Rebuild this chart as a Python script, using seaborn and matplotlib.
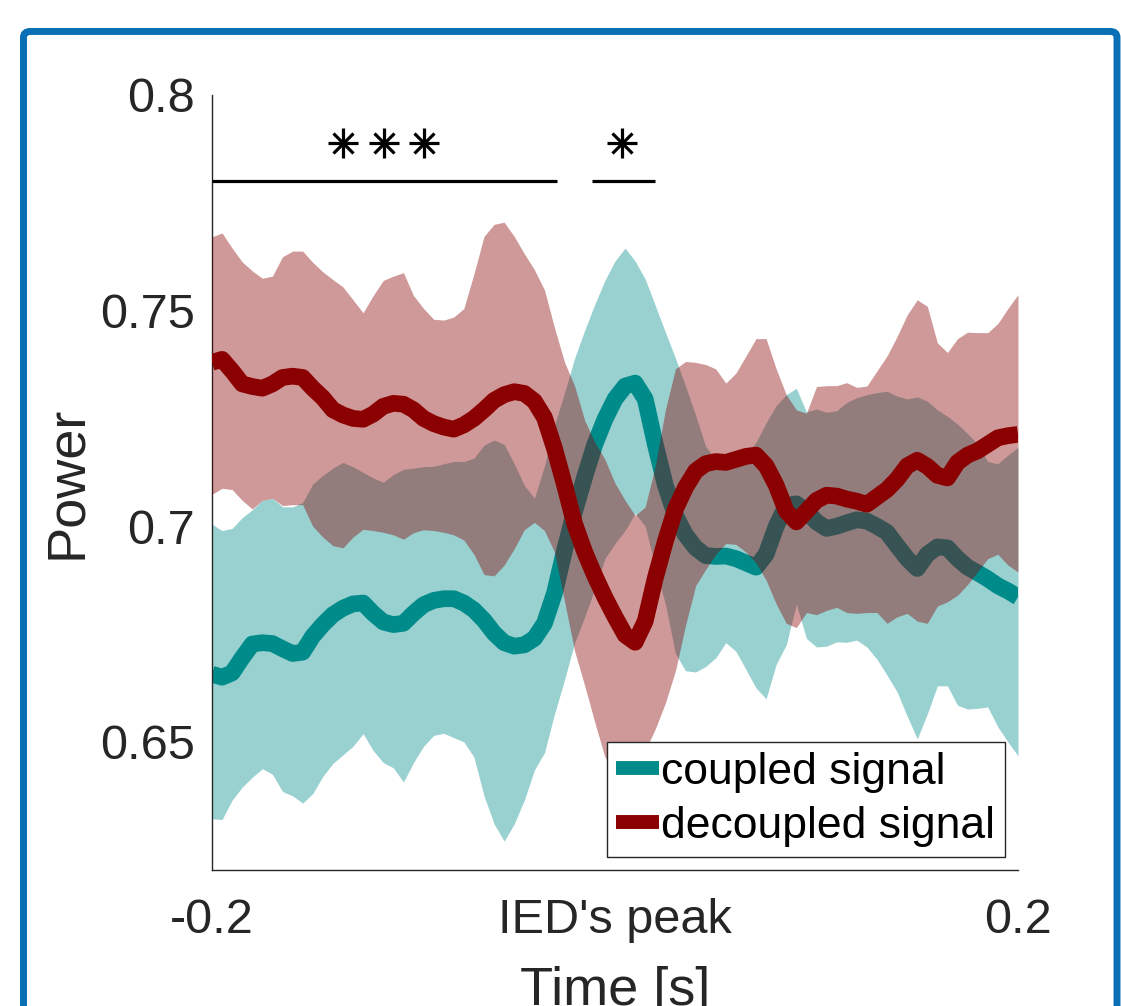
import numpy as np
import pandas as pd
import seaborn as sns
import matplotlib.pyplot as plt
from matplotlib.patches import FancyBboxPatch

# time axis (s), every 5 ms from -0.2 to 0.2
time = np.round(np.linspace(-0.2, 0.2, 81), 3)

coupled_mean = [
    .6657, .6650, .6660, .6695, .6727, .6730, .6728, .6716, .6705, .6708,
    .6745, .6772, .6795, .6810, .6820, .6822, .6798, .6778, .6772, .6775,
    .6798, .6818, .6828, .6832, .6832, .6822, .6806, .6782, .6752, .6730,
    .6722, .6725, .6740, .6775, .6845, .6945, .7035, .7115, .7190, .7248,
    .7295, .7325, .7332, .7295, .7190, .7095, .7025, .6980, .6950, .6932,
    .6930, .6931, .6925, .6915, .6905, .6935, .7000, .7048, .7052, .7035,
    .7010, .6995, .7000, .7008, .7015, .7012, .7000, .6986, .6955, .6925,
    .6902, .6935, .6952, .6950, .6925, .6905, .6892, .6878, .6862, .6850,
    .6836]
coupled_upper = [
    .7005, .6990, .6995, .7020, .7038, .7060, .7065, .7045, .7045, .7055,
    .7098, .7118, .7135, .7148, .7138, .7125, .7112, .7102, .7120, .7132,
    .7135, .7138, .7139, .7145, .7150, .7150, .7158, .7188, .7200, .7190,
    .7145, .7095, .7065, .7140, .7235, .7310, .7390, .7455, .7515, .7570,
    .7615, .7645, .7615, .7573, .7512, .7450, .7390, .7325, .7258, .7185,
    .7155, .7150, .7155, .7165, .7195, .7240, .7280, .7305, .7320, .7265,
    .7272, .7264, .7268, .7287, .7298, .7305, .7310, .7313, .7302, .7295,
    .7300, .7290, .7270, .7255, .7237, .7215, .7190, .7150, .7145, .7165,
    .7183]
coupled_lower = [
    .6322, .6320, .6365, .6395, .6418, .6438, .6425, .6385, .6375, .6358,
    .6380, .6420, .6450, .6470, .6490, .6519, .6480, .6452, .6440, .6407,
    .6452, .6490, .6515, .6520, .6510, .6500, .6465, .6375, .6310, .6270,
    .6310, .6365, .6435, .6475, .6565, .6645, .6730, .6790, .6855, .6925,
    .6960, .6990, .7030, .7000, .6905, .6820, .6705, .6665, .6662, .6675,
    .6695, .6730, .6710, .6668, .6625, .6600, .6680, .6725, .6820, .6740,
    .6720, .6722, .6732, .6731, .6736, .6720, .6692, .6655, .6616, .6560,
    .6507, .6565, .6630, .6630, .6585, .6576, .6578, .6581, .6535, .6500,
    .6468]

decoupled_mean = [
    .7380, .7387, .7360, .7330, .7324, .7320, .7330, .7345, .7348, .7345,
    .7320, .7298, .7270, .7258, .7250, .7248, .7260, .7278, .7285, .7283,
    .7270, .7250, .7238, .7230, .7225, .7235, .7250, .7270, .7292, .7305,
    .7312, .7308, .7290, .7252, .7180, .7095, .7005, .6940, .6885, .6835,
    .6790, .6748, .6731, .6780, .6880, .6965, .7040, .7090, .7128, .7145,
    .7150, .7148, .7155, .7162, .7165, .7140, .7095, .7035, .7010, .7035,
    .7060, .7072, .7070, .7063, .7058, .7051, .7068, .7085, .7109, .7140,
    .7153, .7139, .7118, .7112, .7148, .7165, .7175, .7190, .7205, .7210,
    .7213]
decoupled_upper = [
    .7671, .7680, .7645, .7613, .7592, .7575, .7580, .7625, .7638, .7638,
    .7612, .7590, .7572, .7555, .7525, .7495, .7535, .7570, .7580, .7588,
    .7535, .7505, .7480, .7478, .7485, .7505, .7585, .7672, .7700, .7705,
    .7672, .7632, .7595, .7548, .7460, .7380, .7325, .7245, .7195, .7155,
    .7100, .7060, .7025, .7045, .7140, .7270, .7365, .7382, .7380, .7375,
    .7365, .7332, .7355, .7395, .7435, .7435, .7365, .7305, .7270, .7262,
    .7324, .7326, .7326, .7333, .7322, .7325, .7360, .7395, .7440, .7490,
    .7525, .7510, .7425, .7403, .7435, .7450, .7449, .7449, .7470, .7505,
    .7537]
decoupled_lower = [
    .7074, .7088, .7085, .7060, .7040, .7060, .7065, .7048, .7050, .7050,
    .7000, .6975, .6955, .6950, .6975, .6993, .6990, .6986, .6980, .6970,
    .6985, .6992, .6990, .6986, .6980, .6968, .6935, .6888, .6885, .6910,
    .6948, .6992, .7009, .6990, .6940, .6825, .6710, .6630, .6545, .6465,
    .6430, .6420, .6435, .6480, .6530, .6590, .6665, .6770, .6862, .6900,
    .6935, .6960, .6958, .6940, .6915, .6875, .6820, .6775, .6765, .6800,
    .6795, .6805, .6812, .6800, .6798, .6800, .6800, .6775, .6790, .6798,
    .6780, .6775, .6815, .6825, .6840, .6865, .6895, .6925, .6935, .6910,
    .6894]

series_names = ['coupled signal', 'decoupled signal']
x_ticks = [-0.2, 0, 0.2]
x_ticklabels = ['-0.2', "IED's peak", '0.2']
y_ticks = [0.65, 0.7, 0.75, 0.8]
y_ticklabels = ['0.65', '0.7', '0.75', '0.8']

# significance bars: (start, end) and star positions
sig_bars = [(-0.2, -0.0288), (-0.0114, 0.0199)]
sig_star_x = [[-0.135, -0.1146, -0.0948], [0.0035]]

teal = '#008b8b'
dred = '#8b0000'
grey = '#262626'

sns.set_style('white')
plt.rcParams['font.family'] = ['Liberation Sans', 'DejaVu Sans']

fig = plt.figure(figsize=(11.21, 10.06), dpi=100)
ax = fig.add_axes([0.1891, 0.1352, 0.7190, 0.7704])

df = pd.DataFrame({'time': np.concatenate([time, time]),
                   'power': np.concatenate([coupled_mean, decoupled_mean]),
                   'signal': [series_names[0]] * len(time) + [series_names[1]] * len(time)})

ax.fill_between(time, coupled_lower, coupled_upper, color=teal, alpha=0.4,
                linewidth=0, zorder=1)
sns.lineplot(data=df[df.signal == series_names[0]], x='time', y='power',
             color=teal, linewidth=12, label=series_names[0], ax=ax, zorder=2,
             solid_capstyle='butt')
ax.fill_between(time, decoupled_lower, decoupled_upper, color=dred, alpha=0.4,
                linewidth=0, zorder=3)
sns.lineplot(data=df[df.signal == series_names[1]], x='time', y='power',
             color=dred, linewidth=12, label=series_names[1], ax=ax, zorder=4,
             solid_capstyle='butt')

# significance markers
for (x0, x1), xs in zip(sig_bars, sig_star_x):
    ax.plot([x0, x1], [0.7801, 0.7801], color='black', linewidth=2.3,
            solid_capstyle='butt', clip_on=False, zorder=5)
    ax.plot(xs, [0.7889] * len(xs), linestyle='none', marker='+',
            markersize=21, markeredgewidth=2.3, color='black', zorder=5)
    ax.plot(xs, [0.7889] * len(xs), linestyle='none', marker='x',
            markersize=15, markeredgewidth=2.3, color='black', zorder=5)

ax.set_xlim(-0.2, 0.2)
ax.set_ylim(0.6203, 0.8)
ax.set_xticks(x_ticks)
ax.set_xticklabels(x_ticklabels)
ax.set_yticks(y_ticks)
ax.set_yticklabels(y_ticklabels)
ax.tick_params(direction='in', length=5, width=1, colors=grey,
               labelsize=35, labelcolor=grey)
ax.tick_params(axis='x', pad=20)
ax.tick_params(axis='y', pad=12)
ax.set_xlabel('Time [s]', fontsize=39, color=grey, labelpad=17)
ax.set_ylabel('Power', fontsize=39, color=grey, labelpad=6)
for side in ['top', 'right']:
    ax.spines[side].set_visible(False)
for side in ['left', 'bottom']:
    ax.spines[side].set_color(grey)
    ax.spines[side].set_linewidth(1.0)

leg = ax.legend(loc='lower right', fontsize=32, frameon=True, fancybox=False,
                framealpha=1, edgecolor=grey, handlelength=0.95,
                handletextpad=0.05, borderpad=0.22, labelspacing=0.3,
                borderaxespad=0.3, labelcolor='black')
leg.get_frame().set_linewidth(1.0)
for h in leg.get_lines():
    h.set_linewidth(10)
    h.set_solid_capstyle('butt')
leg.set_zorder(10)

# blue selection frame around the figure
frame = FancyBboxPatch((23.5 / 1121, -0.05), (1117 - 23.5) / 1121, 0.9687 + 0.05,
                       boxstyle='round,pad=0,rounding_size=0.006',
                       transform=fig.transFigure, facecolor='none',
                       edgecolor='#0a6fb4', linewidth=5, clip_on=False)
fig.patches.append(frame)

fig.savefig('out.png', dpi=100)
